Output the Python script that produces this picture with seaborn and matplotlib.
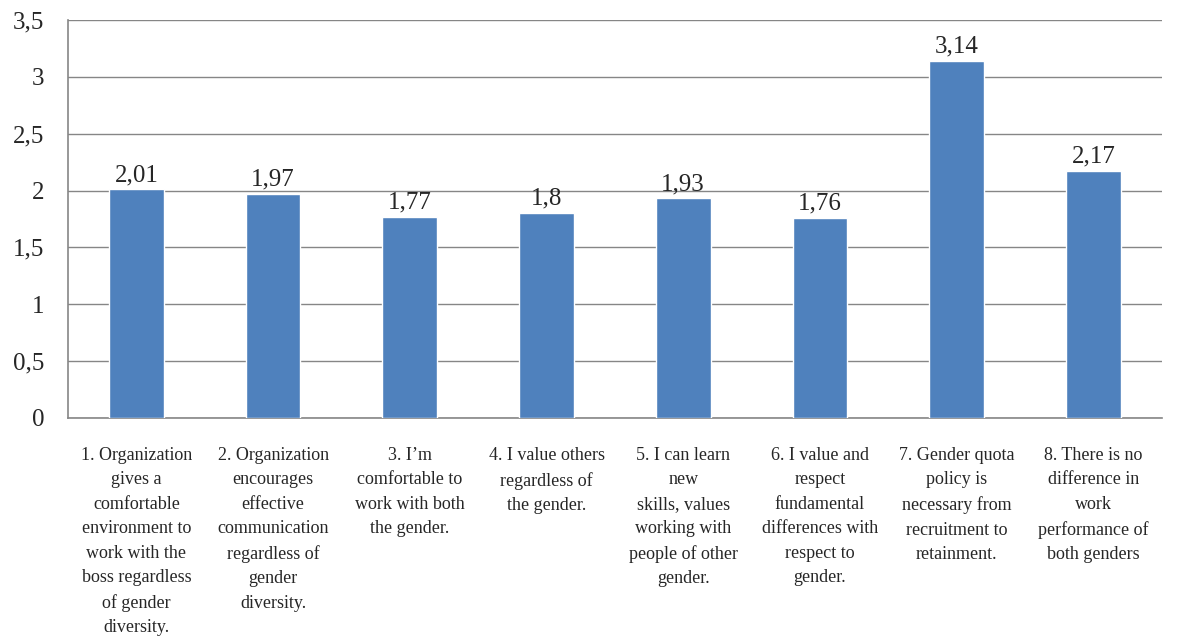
import pandas as pd
import numpy as np
import matplotlib
matplotlib.use("Agg")
import matplotlib.pyplot as plt
import seaborn as sns

# datos
items = [
    "1. Organization\ngives a\ncomfortable\nenvironment to\nwork with the\nboss regardless\nof gender\ndiversity.",
    "2. Organization\nencourages\neffective\ncommunication\nregardless of\ngender\ndiversity.",
    "3. I\u2019m\ncomfortable to\nwork with both\nthe gender.",
    "4. I value others\nregardless of\nthe gender.",
    "5. I can learn\nnew\nskills, values\nworking with\npeople of other\ngender.",
    "6. I value and\nrespect\nfundamental\ndifferences with\nrespect to\ngender.",
    "7. Gender quota\npolicy is\nnecessary from\nrecruitment to\nretainment.",
    "8. There is no\ndifference in\nwork\nperformance of\nboth genders",
]
means = [2.01, 1.97, 1.77, 1.8, 1.93, 1.76, 3.14, 2.17]
yticks = [0, 0.5, 1, 1.5, 2, 2.5, 3, 3.5]

df = pd.DataFrame({"item": items, "mean": means})

sns.set_style("white")
plt.rcParams['font.family'] = ['Liberation Serif', 'DejaVu Serif']

fig = plt.figure(figsize=(11.77, 6.37), dpi=100)
ax = fig.add_axes([0.0578, 0.344, 0.9292, 0.6246])

sns.barplot(data=df, x="item", y="mean", color="#4F81BD", width=0.4,
            saturation=1, ax=ax, zorder=3)

ax.set_ylim(0, 3.5)
ax.set_xlim(-0.5, len(items) - 0.5)
ax.set_yticks(yticks)
ax.set_yticklabels([("%g" % t).replace(".", ",") for t in yticks], fontsize=18)
ax.yaxis.grid(True, color="#868686", linewidth=1, zorder=0)
ax.set_axisbelow(True)

# etiquetas de valor
for i, v in enumerate(means):
    ax.text(i, v + 0.03, str(v).replace(".", ","), ha="center", va="bottom", fontsize=18)

ax.set_xticks(range(len(items)))
ax.set_xticklabels(items, fontsize=13, linespacing=1.57, va="top")
ax.tick_params(axis="x", which="major", length=0, pad=21)
ax.set_xticks(np.arange(-0.5, len(items), 1), minor=True)
ax.tick_params(axis="x", which="minor", length=6, color="#868686", direction="out")
ax.tick_params(axis="y", length=8, color="#868686", direction="out", pad=9)

for s in ["top", "right"]:
    ax.spines[s].set_visible(False)
for s in ["left", "bottom"]:
    ax.spines[s].set_color("#868686")
    ax.spines[s].set_linewidth(1.2)

ax.set_xlabel("")
ax.set_ylabel("")

plt.savefig("out.png", dpi=100)
